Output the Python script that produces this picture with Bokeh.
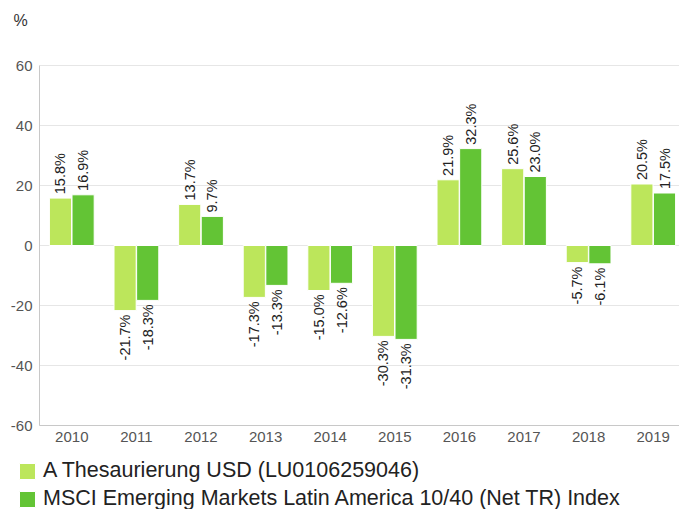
import math
from bokeh.plotting import figure
from bokeh.models import (ColumnDataSource, Range1d, FixedTicker, Legend, LegendItem, Label, Grid)
from bokeh.core.properties import value
from bokeh.embed import file_html
from bokeh.resources import INLINE

years = ["2010", "2011", "2012", "2013", "2014", "2015", "2016", "2017", "2018", "2019"]
fund = [15.8, -21.7, 13.7, -17.3, -15.0, -30.3, 21.9, 25.6, -5.7, 20.5]
index = [16.9, -18.3, 9.7, -13.3, -12.6, -31.3, 32.3, 23.0, -6.1, 17.5]
series_names = ["A Thesaurierung USD (LU0106259046)",
                "MSCI Emerging Markets Latin America 10/40 (Net TR) Index"]
y_ticks = [-60, -40, -20, 0, 20, 40, 60]
y_tick_labels = ["-60", "-40", "-20", "0", "20", "40", "60"]

FONT = "Liberation Sans"
C_LIGHT = "#bce65b"
C_DARK = "#63c435"
OFF = 0.175
BW = 0.343
PAD = 1.3  # label gap in data units (~4px)

W, H = 679, 509
CAT_PX = 64.6          # pixels per category
Y_PX = 3.0             # pixels per percent
LEFT_PX, TOP_PX = 39, 65
x0 = -0.5 - LEFT_PX / CAT_PX
x1 = x0 + W / CAT_PX
y1 = 60 + TOP_PX / Y_PX
y0 = y1 - H / Y_PX

p = figure(width=W, height=H, output_backend="svg", toolbar_location=None,
           x_range=Range1d(x0, x1), y_range=Range1d(y0, y1),
           min_border=0)
p.outline_line_color = None
p.background_fill_color = "white"
p.border_fill_color = "white"

xs = list(range(len(years)))
src_a = ColumnDataSource(dict(
    x=[i - OFF for i in xs], top=fund,
    ly=[v + PAD if v >= 0 else v - PAD for v in fund],
    txt=[f"{v:.1f}%" for v in fund],
    al=["left" if v >= 0 else "right" for v in fund]))
src_b = ColumnDataSource(dict(
    x=[i + OFF for i in xs], top=index,
    ly=[v + PAD if v >= 0 else v - PAD for v in index],
    txt=[f"{v:.1f}%" for v in index],
    al=["left" if v >= 0 else "right" for v in index]))

ra = p.vbar(x="x", top="top", bottom=0, width=BW, source=src_a,
            fill_color=C_LIGHT, line_color="white", line_width=1)
rb = p.vbar(x="x", top="top", bottom=0, width=BW, source=src_b,
            fill_color=C_DARK, line_color="white", line_width=1)

for s in (src_a, src_b):
    p.text(x="x", y="ly", text="txt", source=s, angle=math.pi / 2,
           text_align="al", text_baseline="middle",
           text_font=value(FONT), text_font_size="14.5px", text_color="#222222")

# axes, pinned inside the frame
p.xaxis.fixed_location = y_ticks[0]
p.xaxis.bounds = (-0.5, x1)
p.yaxis.fixed_location = -0.5
p.yaxis.bounds = (y_ticks[0], y_ticks[-1])
p.xaxis.ticker = FixedTicker(ticks=xs)
p.xaxis.major_label_overrides = {i: y for i, y in enumerate(years)}
p.yaxis.ticker = FixedTicker(ticks=y_ticks)
p.yaxis.major_label_overrides = {t: l for t, l in zip(y_ticks, y_tick_labels)}
for ax in (p.xaxis, p.yaxis):
    ax.major_tick_line_color = None
    ax.minor_tick_line_color = None
    ax.axis_line_color = "#c8c8c8"
    ax.major_label_text_font = FONT
    ax.major_label_text_color = "#555555"
p.xaxis.major_label_text_font_size = "15px"
p.yaxis.major_label_text_font_size = "15px"
p.xaxis.major_label_standoff = 0
p.yaxis.major_label_standoff = 1

p.xgrid.grid_line_color = None
p.ygrid.ticker = FixedTicker(ticks=y_ticks)
p.ygrid.grid_line_color = "#e6e6e6"
if "cross_bounds" in Grid.properties():
    p.ygrid.cross_bounds = (-0.5, x1)

p.add_layout(Label(x=x0 + 13 / CAT_PX, y=y1 - 20 / Y_PX, text="%",
                   text_font=FONT, text_font_size="16px", text_color="#333333",
                   text_baseline="middle", text_align="left"))

legend = Legend(items=[LegendItem(label=series_names[0], renderers=[ra]),
                       LegendItem(label=series_names[1], renderers=[rb])],
                location=(17, -2), orientation="vertical",
                glyph_width=20, glyph_height=20, label_height=20, spacing=3,
                label_standoff=6, padding=0, margin=0,
                border_line_color=None, background_fill_alpha=0,
                label_text_font=FONT, label_text_font_size="21.5px",
                label_text_color="#222222")
p.add_layout(legend, "center")

open("out.html", "w").write(file_html(p, INLINE))
